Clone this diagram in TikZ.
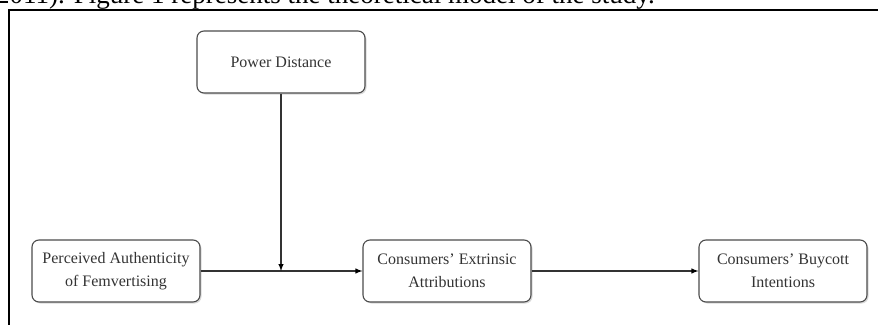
\documentclass[tikz,border=0pt]{standalone}
\usepackage{fontspec}
\setmainfont{Liberation Serif}
\usetikzlibrary{positioning,shadows}

\begin{document}
\begin{tikzpicture}[x=1pt, y=-1pt, >=latex, on grid, auto,
  box/.style={draw=black!70, line width=1.1pt, rounded corners=7pt, fill=white,
    minimum width=168pt, minimum height=62pt, align=center, text=black!80,
    font=\fontsize{16}{23}\selectfont,
    drop shadow={shadow xshift=1.5pt, shadow yshift=-1.5pt, opacity=0.3}},
  link/.style={->, draw=black!80, line width=1.4pt}]
  \useasboundingbox (0,0) rectangle (878,324);
  \clip (0,0) rectangle (878,324);
  % text of the page above the figure
  \node[anchor=base east, inner sep=0pt, font=\fontsize{27}{30}\selectfont] (page) at (655,3)
    {2011). Figure 1 represents the theoretical model of the study.};
  \draw[line width=2pt] (9,330) -- (9,10) -- (885,10);
  % model
  \node[box] (pa) at (116,271) {Perceived Authenticity\\of Femvertising};
  \node[box] (ea) [right=331pt of pa] {Consumers' Extrinsic\\Attributions};
  \node[box] (bi) [right=336pt of ea] {Consumers' Buycott\\Intentions};
  \node[box] (pd) at (281,62) {Power Distance};
  \coordinate (mod) at (pd.south |- pa.east);
  \path[link]
    (pa) edge (ea)
    (ea) edge (bi)
    (pd) edge (mod);
\end{tikzpicture}
\end{document}
